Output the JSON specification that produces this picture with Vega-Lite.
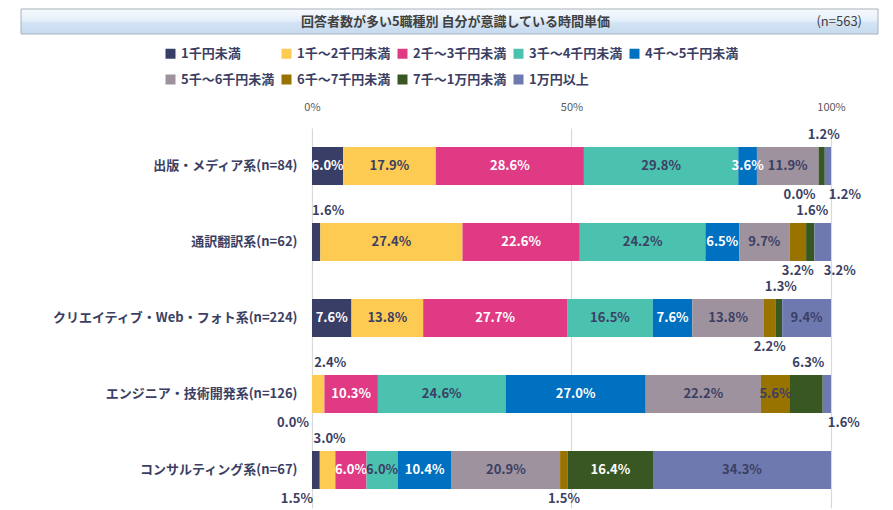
{
  "$schema": "https://vega.github.io/schema/vega-lite/v6.json",
  "background": "white",
  "padding": {"left": 20, "top": 8, "right": 16, "bottom": 4},
  "autosize": {"type": "pad"},
  "resolve": {"scale": {"color": "independent"}, "legend": {"color": "independent"}},
  "vconcat": [
    {
      "width": 857,
      "height": 25,
      "data": {"values": [{"t": "回答者数が多い5職種別 自分が意識している時間単価", "n": "(n=563)"}]},
      "layer": [
        {
          "mark": {
            "type": "rect",
            "fill": {"x1": 0, "y1": 0, "x2": 0, "y2": 1, "gradient": "linear", "stops": [
              {"offset": 0, "color": "#F6FAFE"},
              {"offset": 0.45, "color": "#E6F0FA"},
              {"offset": 0.55, "color": "#D2E3F4"},
              {"offset": 1, "color": "#C7DBEF"}
            ]},
            "stroke": "#A9B1BA",
            "strokeWidth": 1
          },
          "encoding": {}
        },
        {
          "mark": {"type": "text", "fontSize": 13, "fontWeight": "bold", "color": "#404040", "dx": 6, "baseline": "middle", "font": "Noto Sans CJK JP"},
          "encoding": {"text": {"field": "t", "type": "nominal"}}
        },
        {
          "mark": {"type": "text", "fontSize": 13, "color": "#404040", "align": "right", "dx": -16, "baseline": "middle", "font": "Noto Sans CJK JP"},
          "encoding": {
            "text": {"field": "n", "type": "nominal"},
            "x": {"datum": 1, "type": "quantitative", "scale": {"domain": [0, 1]}, "axis": null}
          }
        }
      ]
    },
    {
      "width": 857,
      "height": 380,
      "data": {"values": [
        {"job": "出版・メディア系(n=84)", "band": "1千円未満", "k": 1, "v": 0.060},
        {"job": "出版・メディア系(n=84)", "band": "1千～2千円未満", "k": 2, "v": 0.179},
        {"job": "出版・メディア系(n=84)", "band": "2千～3千円未満", "k": 3, "v": 0.286},
        {"job": "出版・メディア系(n=84)", "band": "3千～4千円未満", "k": 4, "v": 0.298},
        {"job": "出版・メディア系(n=84)", "band": "4千～5千円未満", "k": 5, "v": 0.036},
        {"job": "出版・メディア系(n=84)", "band": "5千～6千円未満", "k": 6, "v": 0.119},
        {"job": "出版・メディア系(n=84)", "band": "6千～7千円未満", "k": 7, "v": 0.000},
        {"job": "出版・メディア系(n=84)", "band": "7千～1万円未満", "k": 8, "v": 0.012},
        {"job": "出版・メディア系(n=84)", "band": "1万円以上", "k": 9, "v": 0.012},
        {"job": "通訳翻訳系(n=62)", "band": "1千円未満", "k": 1, "v": 0.016},
        {"job": "通訳翻訳系(n=62)", "band": "1千～2千円未満", "k": 2, "v": 0.274},
        {"job": "通訳翻訳系(n=62)", "band": "2千～3千円未満", "k": 3, "v": 0.226},
        {"job": "通訳翻訳系(n=62)", "band": "3千～4千円未満", "k": 4, "v": 0.242},
        {"job": "通訳翻訳系(n=62)", "band": "4千～5千円未満", "k": 5, "v": 0.065},
        {"job": "通訳翻訳系(n=62)", "band": "5千～6千円未満", "k": 6, "v": 0.097},
        {"job": "通訳翻訳系(n=62)", "band": "6千～7千円未満", "k": 7, "v": 0.032},
        {"job": "通訳翻訳系(n=62)", "band": "7千～1万円未満", "k": 8, "v": 0.016},
        {"job": "通訳翻訳系(n=62)", "band": "1万円以上", "k": 9, "v": 0.032},
        {"job": "クリエイティブ・Web・フォト系(n=224)", "band": "1千円未満", "k": 1, "v": 0.076},
        {"job": "クリエイティブ・Web・フォト系(n=224)", "band": "1千～2千円未満", "k": 2, "v": 0.138},
        {"job": "クリエイティブ・Web・フォト系(n=224)", "band": "2千～3千円未満", "k": 3, "v": 0.277},
        {"job": "クリエイティブ・Web・フォト系(n=224)", "band": "3千～4千円未満", "k": 4, "v": 0.165},
        {"job": "クリエイティブ・Web・フォト系(n=224)", "band": "4千～5千円未満", "k": 5, "v": 0.076},
        {"job": "クリエイティブ・Web・フォト系(n=224)", "band": "5千～6千円未満", "k": 6, "v": 0.138},
        {"job": "クリエイティブ・Web・フォト系(n=224)", "band": "6千～7千円未満", "k": 7, "v": 0.022},
        {"job": "クリエイティブ・Web・フォト系(n=224)", "band": "7千～1万円未満", "k": 8, "v": 0.013},
        {"job": "クリエイティブ・Web・フォト系(n=224)", "band": "1万円以上", "k": 9, "v": 0.094},
        {"job": "エンジニア・技術開発系(n=126)", "band": "1千円未満", "k": 1, "v": 0.000},
        {"job": "エンジニア・技術開発系(n=126)", "band": "1千～2千円未満", "k": 2, "v": 0.024},
        {"job": "エンジニア・技術開発系(n=126)", "band": "2千～3千円未満", "k": 3, "v": 0.103},
        {"job": "エンジニア・技術開発系(n=126)", "band": "3千～4千円未満", "k": 4, "v": 0.246},
        {"job": "エンジニア・技術開発系(n=126)", "band": "4千～5千円未満", "k": 5, "v": 0.270},
        {"job": "エンジニア・技術開発系(n=126)", "band": "5千～6千円未満", "k": 6, "v": 0.222},
        {"job": "エンジニア・技術開発系(n=126)", "band": "6千～7千円未満", "k": 7, "v": 0.056},
        {"job": "エンジニア・技術開発系(n=126)", "band": "7千～1万円未満", "k": 8, "v": 0.063},
        {"job": "エンジニア・技術開発系(n=126)", "band": "1万円以上", "k": 9, "v": 0.016},
        {"job": "コンサルティング系(n=67)", "band": "1千円未満", "k": 1, "v": 0.015},
        {"job": "コンサルティング系(n=67)", "band": "1千～2千円未満", "k": 2, "v": 0.030},
        {"job": "コンサルティング系(n=67)", "band": "2千～3千円未満", "k": 3, "v": 0.060},
        {"job": "コンサルティング系(n=67)", "band": "3千～4千円未満", "k": 4, "v": 0.060},
        {"job": "コンサルティング系(n=67)", "band": "4千～5千円未満", "k": 5, "v": 0.104},
        {"job": "コンサルティング系(n=67)", "band": "5千～6千円未満", "k": 6, "v": 0.209},
        {"job": "コンサルティング系(n=67)", "band": "6千～7千円未満", "k": 7, "v": 0.015},
        {"job": "コンサルティング系(n=67)", "band": "7千～1万円未満", "k": 8, "v": 0.164},
        {"job": "コンサルティング系(n=67)", "band": "1万円以上", "k": 9, "v": 0.343}
      ]},
      "encoding": {
        "y": {
          "field": "job", "type": "nominal",
          "sort": ["出版・メディア系(n=84)", "通訳翻訳系(n=62)", "クリエイティブ・Web・フォト系(n=224)", "エンジニア・技術開発系(n=126)", "コンサルティング系(n=67)"],
          "scale": {"paddingInner": 0.5, "paddingOuter": 0.25},
          "axis": {"title": null, "domain": false, "ticks": false, "grid": false, "labelPadding": -276, "labelAlign": "right", "labelFontSize": 13, "labelFontWeight": "bold", "labelColor": "#3B3F63", "labelLimit": 400, "minExtent": 0, "labelFont": "Noto Sans CJK JP"}
        },
        "order": {"field": "k", "type": "quantitative"}
      },
      "layer": [
        {
          "mark": {"type": "bar"},
          "encoding": {
            "x": {
              "field": "v", "type": "quantitative", "stack": "normalize",
              "scale": {"domain": [-0.56069, 1.09056], "nice": false, "zero": false},
              "axis": {"orient": "top", "values": [0, 0.5, 1], "format": ".0%", "title": null, "domain": false, "ticks": false, "labelFontSize": 11, "labelColor": "#595959", "labelPadding": 16, "gridColor": "#D9D9D9", "gridWidth": 1.2, "labelFont": "Noto Sans CJK JP"}
            },
            "color": {
              "field": "band", "type": "nominal",
              "sort": ["1千円未満", "1千～2千円未満", "2千～3千円未満", "3千～4千円未満", "4千～5千円未満", "5千～6千円未満", "6千～7千円未満", "7千～1万円未満", "1万円以上"],
              "scale": {
                "domain": ["1千円未満", "1千～2千円未満", "2千～3千円未満", "3千～4千円未満", "4千～5千円未満", "5千～6千円未満", "6千～7千円未満", "7千～1万円未満", "1万円以上"],
                "range": ["#383E66", "#FDCB52", "#E03A85", "#4BC1B0", "#0070C0", "#9E929F", "#997300", "#385723", "#6E79B0"]
              },
              "legend": {"orient": "none", "legendX": 143, "legendY": -81, "direction": "horizontal", "columns": 5, "title": null, "symbolType": "square", "symbolSize": 100, "symbolStrokeWidth": 0, "symbolOpacity": 1, "labelFontSize": 13, "labelFontWeight": "bold", "labelColor": "#3B3F63", "labelOffset": 4, "columnPadding": 5, "rowPadding": 12, "labelLimit": 200, "labelFont": "Noto Sans CJK JP"}
            }
          }
        },
        {
          "mark": {"type": "text", "fontSize": 13, "fontWeight": "bold", "baseline": "middle", "font": "Noto Sans CJK JP"},
          "encoding": {
            "x": {"field": "v", "type": "quantitative", "stack": "normalize", "bandPosition": 0.5,
              "scale": {"domain": [-0.56069, 1.09056], "nice": false, "zero": false},
              "axis": {"orient": "top", "values": [0, 0.5, 1], "format": ".0%", "title": null, "domain": false, "ticks": false, "labelFontSize": 11, "labelColor": "#595959", "labelPadding": 16, "gridColor": "#D9D9D9", "gridWidth": 1.2, "labelFont": "Noto Sans CJK JP"}},
            "detail": {"field": "band", "type": "nominal"},
            "text": {"condition": {"test": "datum.v >= 0.035 && !(datum.band == '7千～1万円未満' && datum.job == 'エンジニア・技術開発系(n=126)')", "field": "v", "type": "quantitative", "format": ".1%"}, "value": ""},
            "fill": {"condition": {"test": "indexof(['1千円未満','2千～3千円未満','4千～5千円未満','7千～1万円未満'], datum.band) >= 0", "value": "#FFFFFF"}, "value": "#3B3F63"}
          }
        },
        {
          "mark": {"type": "text", "fontSize": 13, "fontWeight": "bold", "baseline": "middle", "dy": -31, "dx": 2, "color": "#3B3F63", "font": "Noto Sans CJK JP"},
          "encoding": {
            "x": {"field": "v", "type": "quantitative", "stack": "normalize", "bandPosition": 0.5,
              "scale": {"domain": [-0.56069, 1.09056], "nice": false, "zero": false},
              "axis": {"orient": "top", "values": [0, 0.5, 1], "format": ".0%", "title": null, "domain": false, "ticks": false, "labelFontSize": 11, "labelColor": "#595959", "labelPadding": 16, "gridColor": "#D9D9D9", "gridWidth": 1.2, "labelFont": "Noto Sans CJK JP"}},
            "detail": {"field": "band", "type": "nominal"},
            "text": {"condition": {"test": "(datum.band == '7千～1万円未満' && datum.job != 'コンサルティング系(n=67)') || (datum.band == '1千～2千円未満' && datum.job == 'コンサルティング系(n=67)')", "field": "v", "type": "quantitative", "format": ".1%"}, "value": ""}
          }
        },
        {
          "mark": {"type": "text", "fontSize": 13, "fontWeight": "bold", "baseline": "middle", "dy": -31, "dx": 12, "color": "#3B3F63", "font": "Noto Sans CJK JP"},
          "encoding": {
            "x": {"field": "v", "type": "quantitative", "stack": "normalize", "bandPosition": 0.5,
              "scale": {"domain": [-0.56069, 1.09056], "nice": false, "zero": false},
              "axis": {"orient": "top", "values": [0, 0.5, 1], "format": ".0%", "title": null, "domain": false, "ticks": false, "labelFontSize": 11, "labelColor": "#595959", "labelPadding": 16, "gridColor": "#D9D9D9", "gridWidth": 1.2, "labelFont": "Noto Sans CJK JP"}},
            "detail": {"field": "band", "type": "nominal"},
            "text": {"condition": {"test": "(datum.band == '1千円未満' && datum.job == '通訳翻訳系(n=62)') || (datum.band == '1千～2千円未満' && datum.job == 'エンジニア・技術開発系(n=126)')", "field": "v", "type": "quantitative", "format": ".1%"}, "value": ""}
          }
        },
        {
          "mark": {"type": "text", "fontSize": 13, "fontWeight": "bold", "baseline": "middle", "dy": 29, "color": "#3B3F63", "font": "Noto Sans CJK JP"},
          "encoding": {
            "x": {"field": "v", "type": "quantitative", "stack": "normalize", "bandPosition": 0.5,
              "scale": {"domain": [-0.56069, 1.09056], "nice": false, "zero": false},
              "axis": {"orient": "top", "values": [0, 0.5, 1], "format": ".0%", "title": null, "domain": false, "ticks": false, "labelFontSize": 11, "labelColor": "#595959", "labelPadding": 16, "gridColor": "#D9D9D9", "gridWidth": 1.2, "labelFont": "Noto Sans CJK JP"}},
            "detail": {"field": "band", "type": "nominal"},
            "text": {"condition": {"test": "datum.band == '6千～7千円未満' && datum.v < 0.035 && datum.job != '出版・メディア系(n=84)'", "field": "v", "type": "quantitative", "format": ".1%"}, "value": ""}
          }
        },
        {
          "mark": {"type": "text", "fontSize": 13, "fontWeight": "bold", "baseline": "middle", "dy": 29, "dx": -19, "color": "#3B3F63", "font": "Noto Sans CJK JP"},
          "encoding": {
            "x": {"field": "v", "type": "quantitative", "stack": "normalize", "bandPosition": 0.5,
              "scale": {"domain": [-0.56069, 1.09056], "nice": false, "zero": false},
              "axis": {"orient": "top", "values": [0, 0.5, 1], "format": ".0%", "title": null, "domain": false, "ticks": false, "labelFontSize": 11, "labelColor": "#595959", "labelPadding": 16, "gridColor": "#D9D9D9", "gridWidth": 1.2, "labelFont": "Noto Sans CJK JP"}},
            "detail": {"field": "band", "type": "nominal"},
            "text": {"condition": {"test": "(datum.band == '6千～7千円未満' && datum.job == '出版・メディア系(n=84)') || (datum.band == '1千円未満' && (datum.job == 'エンジニア・技術開発系(n=126)' || datum.job == 'コンサルティング系(n=67)'))", "field": "v", "type": "quantitative", "format": ".1%"}, "value": ""}
          }
        },
        {
          "mark": {"type": "text", "fontSize": 13, "fontWeight": "bold", "baseline": "middle", "dy": 29, "dx": 17, "color": "#3B3F63", "font": "Noto Sans CJK JP"},
          "encoding": {
            "x": {"field": "v", "type": "quantitative", "stack": "normalize", "bandPosition": 0.5,
              "scale": {"domain": [-0.56069, 1.09056], "nice": false, "zero": false},
              "axis": {"orient": "top", "values": [0, 0.5, 1], "format": ".0%", "title": null, "domain": false, "ticks": false, "labelFontSize": 11, "labelColor": "#595959", "labelPadding": 16, "gridColor": "#D9D9D9", "gridWidth": 1.2, "labelFont": "Noto Sans CJK JP"}},
            "detail": {"field": "band", "type": "nominal"},
            "text": {"condition": {"test": "datum.band == '1万円以上' && datum.v < 0.035", "field": "v", "type": "quantitative", "format": ".1%"}, "value": ""}
          }
        }
      ]
    }
  ],
  "spacing": 12,
  "config": {
    "view": {"stroke": null},
    "font": "Noto Sans CJK JP"
  }
}
